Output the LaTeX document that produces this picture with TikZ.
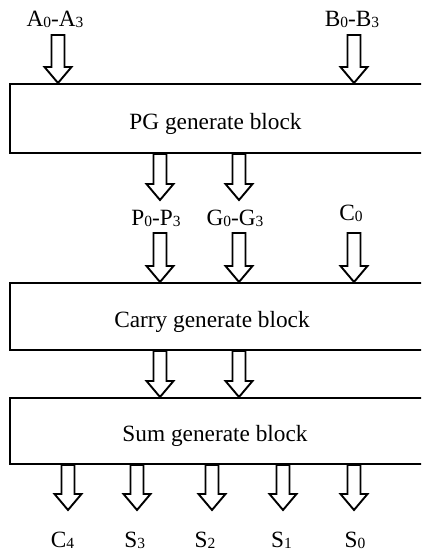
\documentclass[tikz,border=0pt]{standalone}
\usepackage{fontspec}
\setmainfont{Liberation Serif}
\usetikzlibrary{calc}

% subscript digit, a bit smaller and slightly lowered
\newcommand\lowdigit[1]{\raisebox{-1pt}{\fontsize{15.5}{16}\selectfont #1}}

% hollow block arrow pointing down, from the middle of its shaft top (#1) to its tip (#2)
\newcommand\hollowarrow[2]{%
  \draw[arrowline] ($(#1)+(-6.5,0)$) -- ($(#2)+(-6.5,16)$) -- ($(#2)+(-13.5,16)$) -- (#2)
    -- ($(#2)+(13.5,16)$) -- ($(#2)+(6.5,16)$) -- ($(#1)+(6.5,0)$) -- cycle;}

\begin{document}
\begin{tikzpicture}[x=1pt,y=1pt,
  blockbox/.style={draw, line width=2pt, rectangle, inner sep=0pt,
    minimum width=440pt, anchor=north west},
  arrowline/.style={line width=1.9pt, line join=miter, fill=white},
  lbl/.style={font=\fontsize{23.3}{27}\selectfont, inner sep=0pt, anchor=base}]
\useasboundingbox (0,0) rectangle (421,-554);
\clip (0,0) rectangle (421,-554);

% the three blocks
\node[blockbox, minimum height=69pt] (pg) at (9,-83) {};
\node[blockbox, minimum height=67pt] (cg) at (9,-282) {};
\node[blockbox, minimum height=66pt] (sg) at (9,-397) {};

\node[lbl] (pgtext) at (215.5,-129.3) {PG generate block};
\node[lbl] (cgtext) at (212,-327) {Carry generate block};
\node[lbl] (sgtext) at (215,-441.7) {Sum generate block};

% operand inputs
\node[lbl] (ain) at (55,-26.5) {A\lowdigit{0}-A\lowdigit{3}};
\node[lbl] (bin) at (352,-26.5) {B\lowdigit{0}-B\lowdigit{3}};
\coordinate (asrc) at (58,-35);
\coordinate (bsrc) at (354,-35);
\hollowarrow{asrc}{asrc |- pg.north}
\hollowarrow{bsrc}{bsrc |- pg.north}

% propagate / generate outputs
\coordinate (ptip) at (160,-200);
\coordinate (gtip) at (239,-200);
\hollowarrow{ptip |- pg.south}{ptip}
\hollowarrow{gtip |- pg.south}{gtip}

\node[lbl] (pgp) at (156,-225) {P\lowdigit{0}-P\lowdigit{3}};
\node[lbl] (pgg) at (235,-225) {G\lowdigit{0}-G\lowdigit{3}};
\node[lbl] (cin) at (351,-220.7) {C\lowdigit{0}};

% inputs of the carry block
\coordinate (psrc) at (160,-233);
\coordinate (gsrc) at (239,-233);
\coordinate (csrc) at (354,-233);
\hollowarrow{psrc}{psrc |- cg.north}
\hollowarrow{gsrc}{gsrc |- cg.north}
\hollowarrow{csrc}{csrc |- cg.north}

% carry block to sum block
\coordinate (c1) at (160,0);
\coordinate (c2) at (239,0);
\hollowarrow{c1 |- cg.south}{c1 |- sg.north}
\hollowarrow{c2 |- cg.south}{c2 |- sg.north}

% outputs
\foreach \x/\name in {68/o4, 137/o3, 212/o2, 283/o1, 354/o0}{
  \coordinate (\name) at (\x,-510);
  \hollowarrow{\name |- sg.south}{\name}
}
\node[lbl] (c4) at (62.5,-547.3) {C\lowdigit{4}};
\node[lbl] (s3) at (134.7,-547.3) {S\lowdigit{3}};
\node[lbl] (s2) at (205,-547.3) {S\lowdigit{2}};
\node[lbl] (s1) at (281.5,-547.3) {S\lowdigit{1}};
\node[lbl] (s0) at (355,-547.3) {S\lowdigit{0}};
\end{tikzpicture}
\end{document}
